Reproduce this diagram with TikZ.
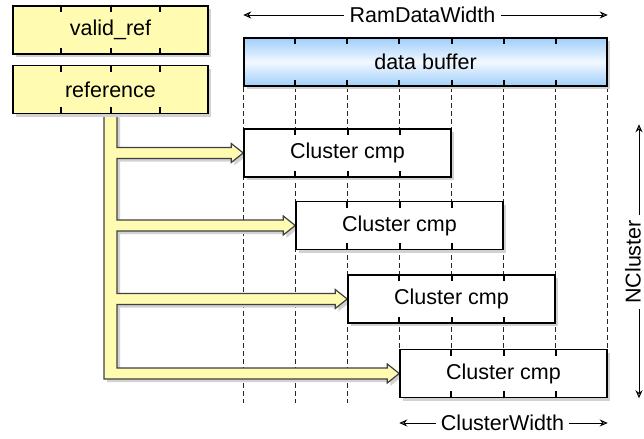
\documentclass[tikz,border=0pt]{standalone}
\usepackage{fontspec}
\setmainfont{Liberation Sans}
\usepackage{xcolor}
\usetikzlibrary{arrows.meta,positioning,calc,shadows}
\definecolor{yelfill}{RGB}{255,251,176}
\definecolor{blutop}{RGB}{160,206,250}
\definecolor{blumid}{RGB}{242,248,255}
\definecolor{shdgray}{RGB}{210,210,210}
\pgfdeclarelayer{bg}
\pgfsetlayers{bg,main}

\begin{document}
\begin{tikzpicture}[
  x=0.5pt, y=-0.5pt,
  every node/.style = {font=\fontsize{10.75}{12}\selectfont, inner sep=1pt},
  shd/.style   = {drop shadow={shadow xshift=1.5pt, shadow yshift=-1.5pt, fill=shdgray, opacity=1}},
  box/.style   = {draw, line width=0.75pt, shd, minimum height=24pt},
  yel/.style   = {box, fill=yelfill, minimum width=97.5pt},
  blu/.style   = {box, top color=blutop, bottom color=blutop, middle color=blumid, minimum width=181.5pt},
  clu/.style   = {box, fill=white, minimum width=103.5pt},
  tick/.style  = {line width=1pt},
  guide/.style = {dash pattern=on 2.5pt off 1.5pt, line width=0.6pt, black!85},
  lbl/.style   = {inner sep=2.5pt},
  dim/.style   = {line width=0.5pt, -{Stealth[open, length=4pt, width=3.5pt]}},
  bus/.style   = {fill=yelfill, draw=black!75, line width=0.6pt, shd},
]
\useasboundingbox (0,0) rectangle (644,439);

% input registers and buffer
\node[yel] (vr)  at (110.5,30)   {valid\_ref};
\node[yel] (ref) at (110.5,89.5) {reference};
\node[blu] (buf) at (425.5,62)   {data buffer};

% compare units
\node[clu] (c1) at (347.5,153)   {Cluster cmp};
\node[clu] (c2) at (399.5,225.5) {Cluster cmp};
\node[clu] (c3) at (451.5,299)   {Cluster cmp};
\node[clu] (c4) at (503.5,373.5) {Cluster cmp};

% word ticks
\foreach \n/\k in {vr/4, ref/4, buf/7, c1/4, c2/4, c3/4, c4/4}{
  \pgfmathtruncatemacro\m{\k-1}
  \foreach \i in {1,...,\m}{
    \draw[tick] ($(\n.north west)!\i/\k!(\n.north east)$) -- ++(0,7);
    \draw[tick] ($(\n.south west)!\i/\k!(\n.south east)$) -- ++(0,-7);
  }
}

\begin{pgfonlayer}{bg}
% word guides
\foreach \i/\e in {0/403, 1/403, 2/403, 3/349, 4/349, 5/349, 6/349, 7/349}
  \draw[guide] ($(buf.south west)!\i/7!(buf.south east)$) coordinate (g) -- (g |- 0,\e);
% reference bus
\coordinate (busl) at ($(ref.south)+(-6.5,0)$);
\coordinate (busr) at ($(ref.south)+(6.5,0)$);
\draw[bus] (busl) -- ($(busl |- c4.west)+(0,5.5)$)
  foreach \c in {c4,c3,c2,c1}{
    -- ($(busr |- \c.west)+(0,5.5)$) -- ($(\c.west)+(-12,5.5)$) -- ($(\c.west)+(-12,9.5)$)
    -- (\c.west) -- ($(\c.west)+(-12,-9.5)$) -- ($(\c.west)+(-12,-5.5)$)
    -- ($(busr |- \c.west)+(0,-5.5)$)
  } -- (busr) -- cycle;
\end{pgfonlayer}

% dimensions
\node[lbl] (rw) at (422.5,15) {RamDataWidth};
\draw[dim] (rw) -- (rw -| buf.west);
\draw[dim] (rw) -- (rw -| buf.east);
\node[lbl] (cw) at (502.5,423) {ClusterWidth};
\draw[dim] (cw) -- (cw -| c4.west);
\draw[dim] (cw) -- (cw -| c4.east);
\node[lbl, inner ysep=0pt, rotate=90] (nc) at (633,262) {NCluster};
\draw[dim] (nc.east -| 639,0) -- ($(c1.north -| 639,0)+(0,-4)$);
\draw[dim] (nc.west -| 639,0) -- (c4.south -| 639,0);
\end{tikzpicture}
\end{document}
